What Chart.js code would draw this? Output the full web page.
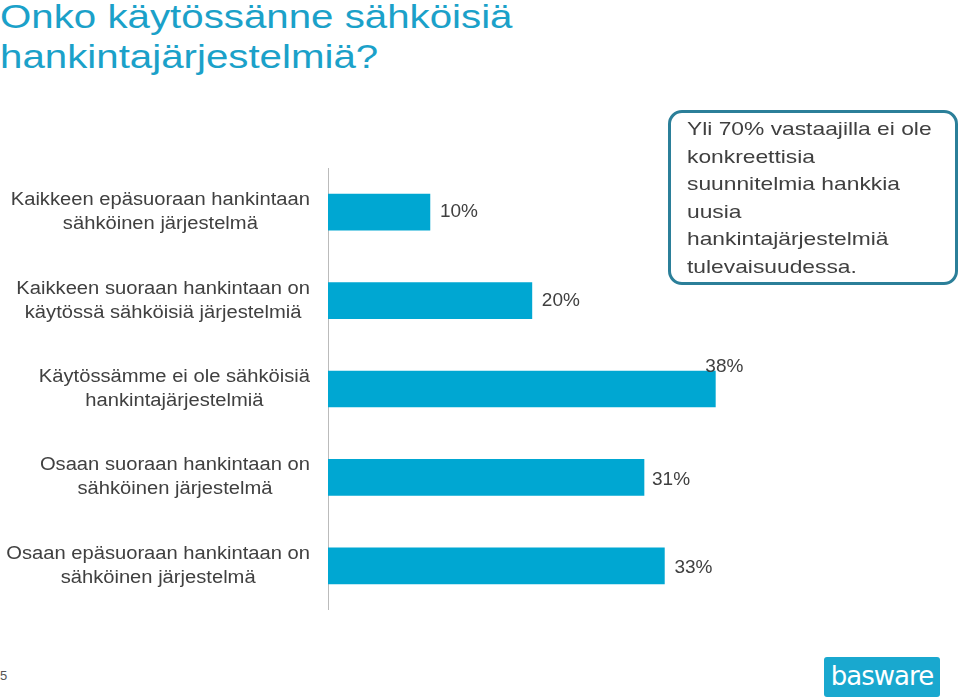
<!DOCTYPE html>
<html><head><meta charset="utf-8">
<script src="https://cdn.jsdelivr.net/npm/chart.js@4/dist/chart.umd.min.js"></script>
<style>
body{margin:0;width:960px;height:698px;background:#fff;position:relative;overflow:hidden;font-family:"Liberation Sans",Arial,sans-serif}
#title{position:absolute;left:0;top:-3px;color:#1ba1c9;font-size:33px;line-height:40px;transform:scale(1.22,1);transform-origin:0 0}
#wrap{position:absolute;left:0;top:168px;width:960px;height:442px}
#call{position:absolute;left:668px;top:110px;height:167px;border:3px solid #2b7f99;border-radius:14px;background:#fff;color:#404040;font-size:19px;line-height:27.5px;padding:2px 0 0 16px;width:268px}
#call span{display:block;transform:scale(1.2,1);transform-origin:0 0;white-space:nowrap}
#pg{position:absolute;left:0;top:668px;font-size:13px;color:#555}
#logo{position:absolute;left:824px;top:657px;width:116px;height:40px;background:#19a8cf;border-radius:3px;color:#fff;font-size:26px;text-align:center;line-height:38px;font-family:"DejaVu Sans",sans-serif;letter-spacing:-1px}
</style></head><body>
<div id="title">Onko käytössänne sähköisiä<br>hankintajärjestelmiä?</div>
<div id="wrap"><canvas id="c"></canvas></div>
<div id="call"><span>Yli 70% vastaajilla ei ole<br>konkreettisia<br>suunnitelmia hankkia<br>uusia<br>hankintajärjestelmiä<br>tulevaisuudessa.</span></div>
<div id="pg">5</div>
<div id="logo">basware</div>
<script>
const categories=[["Kaikkeen epäsuoraan hankintaan","sähköinen järjestelmä"],["Kaikkeen suoraan hankintaan on","käytössä sähköisiä järjestelmiä"],["Käytössämme ei ole sähköisiä","hankintajärjestelmiä"],["Osaan suoraan hankintaan on","sähköinen järjestelmä"],["Osaan epäsuoraan hankintaan on","sähköinen järjestelmä"]];
const values=[10,20,38,31,33];
const labelOffsets=[[10,0],[10,0],[-10,-22],[8,2],[10,2]];
const lbl={id:'lbl',afterDatasetsDraw(ch){const c=ch.ctx;const m=ch.getDatasetMeta(0);c.save();c.font='19px "Liberation Sans",Arial';c.fillStyle='#404040';c.textBaseline='middle';
m.data.forEach((b,i)=>{c.fillText(values[i]+'%',b.x+labelOffsets[i][0],b.y+labelOffsets[i][1]);});
c.font='18px "Liberation Sans",Arial';c.textAlign='center';
m.data.forEach((b,i)=>{const ls=categories[i];const w=Math.max(...ls.map(l=>c.measureText(l).width))*1.12;const cx=310-w/2;
ls.forEach((l,j)=>{c.save();c.translate(cx,b.y+(j-0.5)*24);c.scale(1.12,1);c.fillText(l,0,0);c.restore();});});
c.restore();}};
new Chart(document.getElementById('c'),{type:'bar',data:{labels:categories,datasets:[{data:values,backgroundColor:'#00a7d2',barThickness:36}]},
options:{indexAxis:'y',responsive:true,maintainAspectRatio:false,animation:false,layout:{padding:0},
plugins:{legend:{display:false},tooltip:{enabled:false}},
scales:{x:{display:false,min:0,max:62},y:{afterFit(s){s.width=328;},grid:{display:false,drawTicks:false},border:{display:true,color:'#bbb'},
ticks:{display:false}}}}, plugins:[lbl]});
</script>
</body></html>
